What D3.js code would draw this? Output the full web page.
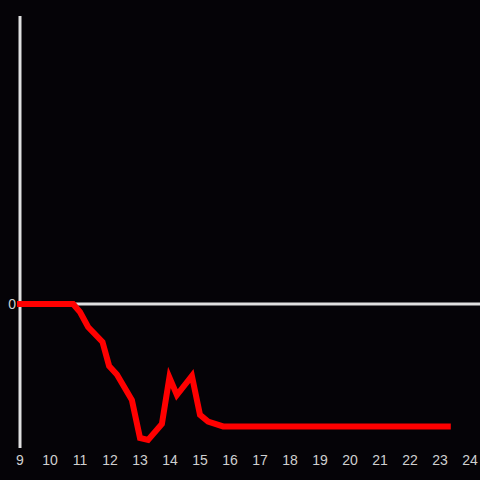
<!DOCTYPE html>
<html><head><meta charset="utf-8">
<script src="https://cdn.jsdelivr.net/npm/d3@7"></script>
<style>html,body{margin:0;padding:0;background:#050307;}svg{display:block;}</style>
</head><body>
<svg id="c" width="480" height="480"></svg>
<script>
const hours = [9, 10.77, 11.0, 11.27, 11.75, 11.97, 12.23, 12.73, 13.0, 13.27, 13.73, 13.98, 14.23, 14.73, 15.0, 15.27, 15.77, 23.26];
const values = [0, 0, -0.056, -0.16, -0.264, -0.43, -0.49, -0.667, -0.93, -0.944, -0.833, -0.51, -0.632, -0.50, -0.77, -0.817, -0.85, -0.85];
const xTicks = [9,10,11,12,13,14,15,16,17,18,19,20,21,22,23,24];
const yTicks = [0];

const svg = d3.select("#c");
const x = d3.scaleLinear().domain([9, 24]).range([20, 470]);
const y = d3.scaleLinear().domain([-1, 2]).range([448, 16]);

svg.append("rect").attr("width",480).attr("height",480).attr("fill","#050307");

// y axis line
svg.append("line").attr("x1",x(9)).attr("x2",x(9)).attr("y1",16).attr("y2",448)
  .attr("stroke","#e0e0e0").attr("stroke-width",3);
// zero line
svg.append("line").attr("x1",x(9)).attr("x2",480).attr("y1",y(0)).attr("y2",y(0))
  .attr("stroke","#e0e0e0").attr("stroke-width",3);

// x tick labels
svg.selectAll("text.xt").data(xTicks).enter().append("text")
  .attr("class","xt").attr("x",d=>x(d)).attr("y",465)
  .attr("text-anchor","middle").attr("fill","#d0d0d0")
  .style("font-family","Liberation Sans, Arial, sans-serif").style("font-size","14px")
  .text(d=>d);
// y tick labels
svg.selectAll("text.yt").data(yTicks).enter().append("text")
  .attr("class","yt").attr("x",16).attr("y",d=>y(d)+5)
  .attr("text-anchor","end").attr("fill","#d0d0d0")
  .style("font-family","Liberation Sans, Arial, sans-serif").style("font-size","14px")
  .text(d=>d);

const data = hours.map((h,i)=>[h, values[i]]);
svg.append("path").datum(data)
  .attr("d", d3.line().x(d=>x(d[0])).y(d=>y(d[1])))
  .attr("fill","none").attr("stroke","#ff0000").attr("stroke-width",6)
  .attr("stroke-linecap","square").attr("stroke-linejoin","miter");
</script>
</body></html>
